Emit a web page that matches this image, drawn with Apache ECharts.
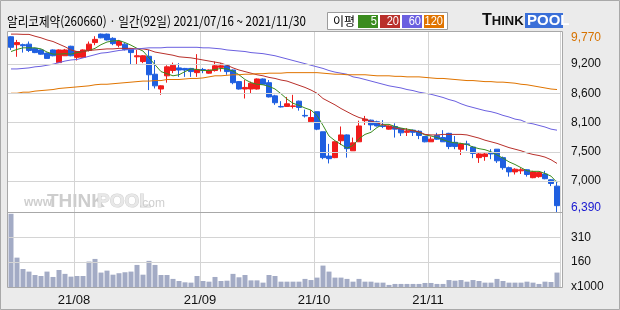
<!DOCTYPE html>
<html><head><meta charset="utf-8">
<script src="https://cdn.jsdelivr.net/npm/echarts@6/dist/echarts.min.js"></script>
<style>html,body{margin:0;padding:0;background:#ebebeb;}#c{width:620px;height:310px;}</style>
</head><body><div id="c"></div>
<script>
const DATES = [
'2021/07/16','2021/07/19','2021/07/20','2021/07/21','2021/07/22','2021/07/23','2021/07/26','2021/07/27','2021/07/28','2021/07/29','2021/07/30',
'2021/08/02','2021/08/03','2021/08/04','2021/08/05','2021/08/06','2021/08/09','2021/08/10','2021/08/11','2021/08/12','2021/08/13',
'2021/08/17','2021/08/18','2021/08/19','2021/08/20','2021/08/23','2021/08/24','2021/08/25','2021/08/26','2021/08/27','2021/08/30','2021/08/31',
'2021/09/01','2021/09/02','2021/09/03','2021/09/06','2021/09/07','2021/09/08','2021/09/09','2021/09/10','2021/09/13','2021/09/14','2021/09/15',
'2021/09/16','2021/09/17','2021/09/23','2021/09/24','2021/09/27','2021/09/28','2021/09/29','2021/09/30',
'2021/10/01','2021/10/05','2021/10/06','2021/10/07','2021/10/08','2021/10/12','2021/10/13','2021/10/14','2021/10/15','2021/10/18','2021/10/19',
'2021/10/20','2021/10/21','2021/10/22','2021/10/25','2021/10/26','2021/10/27','2021/10/28','2021/10/29',
'2021/11/01','2021/11/02','2021/11/03','2021/11/04','2021/11/05','2021/11/08','2021/11/09','2021/11/10','2021/11/11','2021/11/12','2021/11/15',
'2021/11/16','2021/11/17','2021/11/18','2021/11/19','2021/11/22','2021/11/23','2021/11/24','2021/11/25','2021/11/26','2021/11/29','2021/11/30'];
const OPEN = [9710,9560,9560,9570,9490,9460,9400,9460,9220,9350,9530,9320,9320,9450,9600,9760,9760,9680,9550,9570,9480,9330,9240,9340,9000,8720,8970,9070,9120,9110,9110,9030,9090,9020,9070,9130,9160,9080,8860,8720,8720,8720,8910,8840,8590,8390,8390,8390,8490,8220,8100,8290,7910,7450,7420,7740,7850,7550,7720,8120,8130,8100,8020,7960,8010,7970,7900,7940,7920,7820,7720,7840,7800,7880,7710,7580,7680,7620,7420,7440,7520,7580,7420,7230,7150,7170,7190,7040,7060,7110,7000,6880];
const CLOSE = [9510,9600,9540,9450,9410,9380,9300,9350,9460,9460,9350,9430,9460,9570,9660,9690,9650,9580,9620,9470,9410,9350,9350,8990,8780,8780,9140,9170,9080,9080,9050,9090,9070,9080,9160,9160,9050,8840,8720,8750,8830,8910,8810,8570,8460,8380,8440,8400,8370,8210,8180,7960,7420,7400,7720,7850,7590,7700,8020,8150,8040,8020,8010,8020,7960,7890,7920,7900,7840,7720,7770,7770,7720,7630,7630,7680,7670,7500,7490,7490,7490,7360,7230,7150,7200,7190,7100,7150,7140,7020,6930,6510];
const LOW = [9460,9330,9410,9420,9400,9370,9300,9340,9220,9350,9340,9260,9310,9430,9550,9680,9640,9550,9510,9450,9190,9190,9210,8700,8730,8610,8840,9020,8950,8950,8950,8950,9020,9010,9050,9050,8990,8810,8710,8540,8640,8710,8800,8560,8420,8370,8380,8350,8310,8180,8100,7940,7390,7310,7410,7660,7420,7550,7720,8040,7940,8010,7980,7950,7800,7830,7830,7830,7770,7710,7720,7760,7720,7580,7580,7470,7550,7410,7320,7360,7390,7320,7190,7060,7100,7110,7060,7030,7040,7010,6880,6390];
const HIGH = [9720,9650,9580,9620,9500,9470,9410,9470,9470,9480,9540,9440,9470,9620,9720,9770,9770,9700,9650,9590,9490,9460,9360,9460,9270,8790,9170,9220,9210,9120,9120,9380,9120,9090,9240,9210,9170,9090,8870,8890,8860,8920,8920,8890,8610,8490,8570,8610,8500,8330,8320,8290,7910,7680,7730,8010,7860,7800,8120,8210,8140,8120,8130,8030,8070,7980,7980,7950,7940,7830,7820,7890,7940,7890,7830,7700,7740,7640,7510,7510,7580,7580,7440,7250,7220,7220,7200,7170,7150,7170,7010,6980];
const VOLUME = [457,187,117,101,80,74,101,68,111,87,70,74,74,163,179,95,107,82,91,97,101,142,82,167,142,80,80,56,43,35,33,74,43,39,68,43,45,87,66,80,47,47,33,80,74,39,39,39,39,56,49,64,138,101,64,64,56,39,56,39,39,33,33,19,25,25,25,25,25,31,31,25,25,49,45,49,39,49,43,33,33,56,43,33,33,33,39,33,25,39,37,95];
const MA5 = [9430,9470,9500,9500,9500,9480,9420,9380,9380,9390,9380,9410,9430,9450,9490,9560,9610,9630,9640,9600,9550,9490,9440,9310,9180,9050,9010,8970,8990,9050,9100,9090,9070,9070,9090,9110,9100,9060,8990,8900,8840,8810,8800,8770,8720,8630,8530,8450,8410,8360,8320,8220,8030,7830,7740,7670,7600,7650,7780,7860,7900,7990,8050,8050,8010,7980,7960,7940,7900,7850,7830,7800,7760,7720,7700,7690,7670,7620,7590,7570,7530,7470,7410,7340,7290,7230,7170,7160,7160,7120,7070,6950];
const MA20 = [9760,9760,9755,9755,9720,9690,9650,9620,9570,9520,9460,9430,9430,9450,9460,9470,9480,9480,9490,9490,9490,9480,9480,9460,9420,9400,9380,9360,9330,9320,9310,9290,9270,9250,9230,9210,9170,9120,9080,9050,9020,8990,8970,8940,8920,8890,8870,8830,8790,8750,8700,8640,8540,8480,8420,8350,8290,8230,8180,8150,8110,8080,8040,8010,7980,7960,7940,7930,7910,7860,7850,7850,7860,7860,7860,7860,7850,7820,7790,7750,7720,7690,7650,7610,7580,7550,7510,7480,7460,7430,7380,7310];
const MA60 = [9100,9100,9110,9120,9140,9150,9170,9190,9220,9250,9270,9280,9310,9340,9370,9400,9410,9430,9450,9460,9470,9480,9490,9500,9500,9500,9510,9510,9510,9510,9510,9510,9500,9500,9490,9480,9460,9450,9440,9430,9410,9400,9390,9370,9350,9320,9290,9260,9230,9200,9170,9140,9110,9070,9040,9020,9000,8950,8930,8900,8870,8840,8810,8780,8760,8740,8710,8690,8660,8640,8620,8590,8560,8520,8490,8440,8400,8370,8340,8310,8290,8260,8220,8190,8150,8130,8080,8060,8030,8000,7960,7940];
const MA120 = [8640,8640,8660,8660,8680,8690,8700,8710,8730,8740,8750,8760,8770,8780,8800,8810,8810,8820,8830,8840,8850,8860,8870,8870,8880,8880,8900,8900,8900,8910,8920,8920,8930,8950,8970,8970,8980,8990,8990,9000,9000,9010,9010,9020,9020,9020,9030,9030,9030,9030,9030,9030,9020,9010,9000,9000,8990,8990,8990,8990,8980,8970,8970,8970,8960,8960,8950,8950,8950,8940,8930,8920,8920,8910,8900,8890,8880,8880,8870,8860,8860,8850,8850,8840,8830,8810,8800,8780,8760,8740,8720,8710];
const PRICE_GRID_VALUES = [9195,8640,8085,7530,6975];
const PRICE_TICK_LABELS = ['9,200','8,600','8,100','7,500','7,000'];
const PRICE_MAX_LABEL = '9,770';
const PRICE_MIN_LABEL = '6,390';
const VOLUME_GRID_VALUES = [310,160];
const VOLUME_TICK_LABELS = ['310','160'];
const VOLUME_UNIT_LABEL = 'x1000';
const X_TICK_LABELS = ['21/08','21/09','21/10','21/11'];
const TITLE = '알리코제약(260660) · 일간(92일) 2021/07/16 ~ 2021/11/30';
const MA_NAMES = ['5','20','60','120'];
const MA_COLORS = ['#3b8c1f','#b9302b','#6b60e0','#e07400'];

const monthStart = i => i > 0 && DATES[i].slice(5,7) !== DATES[i-1].slice(5,7);
const tickFor = v => X_TICK_LABELS.find(t => t.slice(3) === v.slice(5,7)) || '';
const priceMax = Math.max(...HIGH), priceMin = Math.min(...LOW);
const FONT = '"Liberation Sans", Arial, sans-serif';
const HIDDEN = {color:'rgba(0,0,0,0)', width:0};
const lblBase = {position:'end', distance:11, color:'#111', fontSize:12, fontFamily:FONT, align:'left'};

const chart = echarts.init(document.getElementById('c'), null, {renderer:'canvas'});
const gridLine = {color:'#d4d4d4', width:1, type:'solid'};

const graphics = [
  {type:'rect', z:-10, shape:{x:0.5,y:0.5,width:619,height:309}, style:{fill:'#ebebeb', stroke:'#a9a9a9', lineWidth:1}},
  {type:'rect', z:-9, shape:{x:7.5,y:31.5,width:555,height:256}, style:{fill:'#ffffff', stroke:null}},
  {type:'rect', z:100, shape:{x:7.5,y:31.5,width:555,height:256}, style:{fill:null, stroke:'#a8a8a8', lineWidth:1}},
  {type:'line', z:100, shape:{x1:7.5,y1:212.5,x2:562.5,y2:212.5}, style:{stroke:'#a8a8a8', lineWidth:1}},
  {type:'text', z:100, x:7, y:21, scaleX:0.89, style:{text:TITLE, font:'13px "Noto Sans CJK KR", sans-serif', fill:'#000', verticalAlign:'middle'}},
  {type:'rect', z:100, shape:{x:327.5,y:12.5,width:120,height:17}, style:{fill:'#fff', stroke:'#9c9c9c', lineWidth:1}},
  {type:'text', z:101, x:333, y:21, style:{text:'이평', font:'12px "Noto Sans CJK KR", sans-serif', fill:'#000', verticalAlign:'middle'}},
  {type:'text', z:1, x:24, y:203, style:{text:'www.', font:'bold 12px '+FONT, fill:'#cfcfcf', verticalAlign:'middle'}},
  {type:'text', z:1, x:47, y:202, style:{text:'THINK', font:'bold 19px '+FONT, fill:'#cdcdcd', verticalAlign:'middle'}},
  {type:'text', z:1, x:97, y:202, style:{text:'POOL', font:'bold 19px '+FONT, fill:'#e8e8e8', stroke:'#d2d2d2', lineWidth:1, verticalAlign:'middle'}},
  {type:'text', z:1, x:139, y:204, style:{text:'.com', font:'12px '+FONT, fill:'#cfcfcf', verticalAlign:'middle'}},
  {type:'text', z:100, x:482, y:21, style:{text:'{a|T}{b|HINK}', rich:{a:{font:'bold 16px '+FONT, fill:'#111'}, b:{font:'bold 13px '+FONT, fill:'#111'}}, verticalAlign:'middle'}},
  {type:'rect', z:100, shape:{x:525,y:13,width:38,height:15}, style:{fill:'#3a6fd8'}},
  {type:'text', z:101, x:527, y:21, style:{text:'POOL', font:'bold 15px '+FONT, fill:'#fff', verticalAlign:'middle'}}
];
MA_NAMES.forEach((n, k) => {
  const x = 358 + k*22;
  graphics.push({type:'rect', z:101, shape:{x:x,y:15,width:20,height:13}, style:{fill:MA_COLORS[k]}});
  graphics.push({type:'text', z:102, x:x+19, y:21.5, scaleX:0.85, style:{text:n, font:'13px '+FONT, fill:'#fff', align:'right', verticalAlign:'middle'}});
});

const maSeries = [MA5, MA20, MA60, MA120].map((d, k) => ({
  type:'line', name:'MA'+MA_NAMES[k], data:d, xAxisIndex:0, yAxisIndex:0, showSymbol:false, symbol:'none',
  lineStyle:{color:MA_COLORS[k], width:1}, z:3, silent:true
}));

const option = {
  animation:false,
  backgroundColor:'transparent',
  graphic:graphics,
  grid:[
    {left:8, right:60, top:32, height:180, show:false},
    {left:8, right:60, top:212, height:76, show:false}
  ],
  xAxis:[
    {type:'category', gridIndex:0, data:DATES, boundaryGap:true, axisLine:{show:false}, axisTick:{show:false}, axisLabel:{show:false},
     splitLine:{show:true, interval:(i)=>monthStart(i), lineStyle:gridLine}},
    {type:'category', gridIndex:1, data:DATES, boundaryGap:true, axisLine:{show:false}, axisTick:{show:false},
     axisLabel:{show:true, interval:(i)=>monthStart(i), formatter:(v)=>tickFor(v), color:'#111', fontSize:13, fontFamily:FONT, margin:6, padding:[0,6,0,0]},
     splitLine:{show:true, interval:(i)=>monthStart(i), lineStyle:gridLine}}
  ],
  yAxis:[
    {type:'value', gridIndex:0, min:6390, max:9800, position:'right', show:true, axisLine:{show:false}, axisTick:{show:false}, axisLabel:{show:false}, splitLine:{show:false}},
    {type:'value', gridIndex:1, min:0, max:468, position:'right', show:true, axisLine:{show:false}, axisTick:{show:false}, axisLabel:{show:false}, splitLine:{show:false}}
  ],
  series:[
    {type:'line', name:'priceGrid', data:[], xAxisIndex:0, yAxisIndex:0, z:1, silent:true,
     markLine:{silent:true, symbol:'none', animation:false, lineStyle:gridLine,
       data: PRICE_GRID_VALUES.map((v,i)=>({yAxis:v, label:Object.assign({}, lblBase, {formatter:PRICE_TICK_LABELS[i]})}))
         .concat([
           {yAxis:priceMax, lineStyle:HIDDEN, label:Object.assign({}, lblBase, {formatter:PRICE_MAX_LABEL, color:'#d67200', offset:[0,4]})},
           {yAxis:priceMin, lineStyle:HIDDEN, label:Object.assign({}, lblBase, {formatter:PRICE_MIN_LABEL, color:'#1818d0', offset:[0,-4]})}
         ])}},
    {type:'candlestick', name:'price', xAxisIndex:0, yAxisIndex:0, z:2, barWidth:5,
     data: DATES.map((d,i)=>[OPEN[i], CLOSE[i], LOW[i], HIGH[i]]),
     itemStyle:{color:'#f01c1c', color0:'#1f5fe0', borderColor:'#f01c1c', borderColor0:'#1f5fe0', borderWidth:1}},
    ...maSeries,
    {type:'bar', name:'volume', xAxisIndex:1, yAxisIndex:1, data:VOLUME, barWidth:5, itemStyle:{color:'#a3abc5'}, z:2,
     markLine:{silent:true, symbol:'none', animation:false, lineStyle:gridLine,
       data: VOLUME_GRID_VALUES.map((v,i)=>({yAxis:v, label:Object.assign({}, lblBase, {formatter:VOLUME_TICK_LABELS[i]})}))
         .concat([{yAxis:0, lineStyle:HIDDEN, label:Object.assign({}, lblBase, {formatter:VOLUME_UNIT_LABEL, offset:[0,-1]})}])}}
  ]
};
chart.setOption(option);
</script></body></html>
